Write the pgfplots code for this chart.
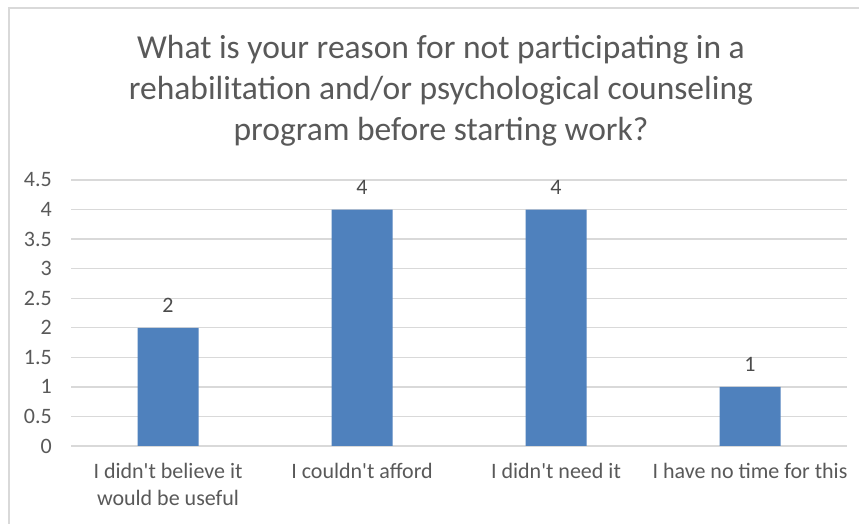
\documentclass[border=0pt]{standalone}
\usepackage{pgfplots}
\pgfplotsset{compat=1.18}
\usepackage{fontspec}
\setmainfont{Carlito}
\definecolor{barblue}{HTML}{4F81BD}
\definecolor{gridgray}{HTML}{D9D9D9}
\definecolor{txtgray}{HTML}{595959}
\definecolor{framegray}{HTML}{D9D9D9}
\begin{document}
\begin{tikzpicture}[x=1pt,y=1pt]
\useasboundingbox (0,0) rectangle (859,524);
\fill[white] (0,0) rectangle (859,524);
\draw[framegray, line width=1.5pt] (9,0) -- (9,516) -- (859,516);
\node[align=center, text=txtgray, font=\fontsize{33.5}{41}\selectfont] at (441,433)
  {What is your reason for not participating in a\\rehabilitation and/or psychological counseling\\program before starting work?};
\begin{axis}[
  at={(71pt,78pt)}, anchor=south west,
  scale only axis, width=776pt, height=266pt,
  xmin=-0.5, xmax=3.5, ymin=0, ymax=4.5,
  ytick={0,0.5,1,1.5,2,2.5,3,3.5,4,4.5},
  xtick={0,1,2,3},
  xticklabels={{I didn\textquotesingle t believe it\\would be useful},{I couldn\textquotesingle t afford},{I didn\textquotesingle t need it},{I have no time for this}},
  axis line style={draw=none},
  major tick length=0pt,
  ymajorgrids, grid style={gridgray, line width=1.4pt},
  /pgf/number format/assume math mode=true,
  yticklabel style={font=\fontsize{22}{22}\selectfont, text=txtgray, anchor=east, inner sep=0pt, xshift=-19pt},
  xticklabel style={font=\fontsize{22}{27}\selectfont, text=txtgray, align=center, anchor=north, inner sep=0pt, yshift=-17pt},
  ybar, bar width=61pt,
  nodes near coords,
  every node near coord/.append style={font=\fontsize{22}{22}\selectfont, text=txtgray!85!black, anchor=south, inner sep=0pt, yshift=15pt},
  clip=false,
]
\addplot[fill=barblue, draw=none] coordinates {(0,2) (1,4) (2,4) (3,1)};
\end{axis}
\end{tikzpicture}
\end{document}
